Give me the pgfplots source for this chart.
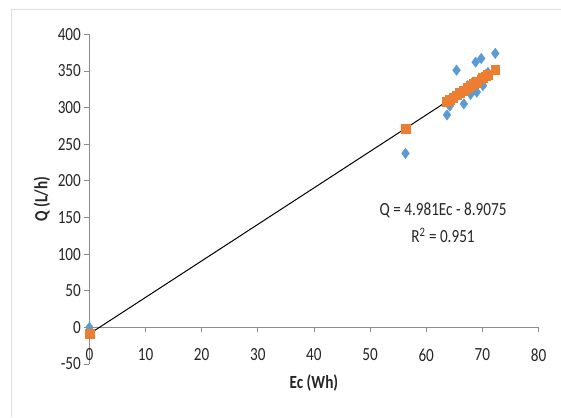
\documentclass[border=0pt]{standalone}
\usepackage{pgfplots}
\pgfplotsset{compat=1.18}
\usepackage{graphicx}
\usepackage{fontspec}
\setmainfont{Carlito}
\definecolor{eblue}{HTML}{5B9BD5}
\definecolor{eorange}{HTML}{ED7D31}
\definecolor{axgray}{HTML}{8C8C8C}
\definecolor{txt}{HTML}{262626}
\newcommand{\st}[1]{\scalebox{1}[1.22]{#1}}
\begin{document}
\begin{tikzpicture}
\path[use as bounding box] (-89.4pt,-53pt) rectangle (471.6pt,364pt);
\draw[gray!25, line width=1pt] (-77.4pt,-53pt) -- (-77.4pt,354pt) -- (471.6pt,354pt);
\begin{axis}[
  scale only axis, width=449.1pt, height=329.7pt,
  xmin=0, xmax=80, ymin=-50, ymax=400,
  axis y line=left, axis x line=middle,
  axis line style={axgray, line width=0.8pt, -},
  xtick={0,10,...,80}, ytick={-50,0,...,400},
  hide obscured x ticks=false, hide obscured y ticks=false,
  tick style={axgray, line width=0.8pt},
  tick align=outside, major tick length=5pt,
  clip=false,
  /pgf/number format/assume math mode=true,
  xticklabel={\st{\pgfmathprintnumber{\tick}}},
  yticklabel={\st{\pgfmathprintnumber{\tick}}},
  xticklabel style={font=\fontsize{15.2}{18}\selectfont, text=txt, anchor=north, yshift=-13pt},
  yticklabel style={font=\fontsize{15.2}{18}\selectfont, text=txt, anchor=east},
  xlabel={\st{\textbf{Ec (Wh)}}}, ylabel={\st{\textbf{Q (L/h)}}},
  label style={font=\fontsize{15.2}{18}\selectfont, text=txt},
  xlabel style={at={(axis description cs:0.5,-0.058)}, anchor=center},
  ylabel style={at={(axis description cs:-0.1056,0.5)}, anchor=center, rotate=0},
]
\addplot[only marks, mark=diamond*, mark size=5.2pt, color=eblue] coordinates {
(0,0) (56.3,237.5) (63.7,290) (64.2,302) (64.8,315) (65.4,351) (66.0,318)
(66.7,305) (67.4,330) (67.9,318) (68.5,335) (68.8,362) (69.0,321)
(69.8,367) (70.1,330) (70.6,345) (71.0,348) (72.3,374)
};
\addplot[only marks, mark=square*, mark size=4.4pt, color=eorange] coordinates {
(0,-8.91) (56.3,271.52) (63.7,308.38) (64.2,310.87) (64.8,313.86) (65.4,316.85)
(66.0,319.84) (66.7,323.33) (67.4,326.81) (67.9,329.30) (68.5,332.29)
(68.8,333.79) (69.0,334.78) (69.8,338.76) (70.1,340.26) (70.6,342.75)
(71.0,344.74) (72.3,351.22)
};
\addplot[black, line width=1pt, no marks] coordinates {(0,-8.9075) (72.3,351.22)};
\node[font=\fontsize{15.2}{18}\selectfont, text=txt] at (axis cs:63,159) {\st{Q = 4.981Ec - 8.9075}};
\node[font=\fontsize{15.2}{18}\selectfont, text=txt] at (axis cs:63,126) {\st{R\textsuperscript{2} = 0.951}};
\end{axis}
\end{tikzpicture}
\end{document}
